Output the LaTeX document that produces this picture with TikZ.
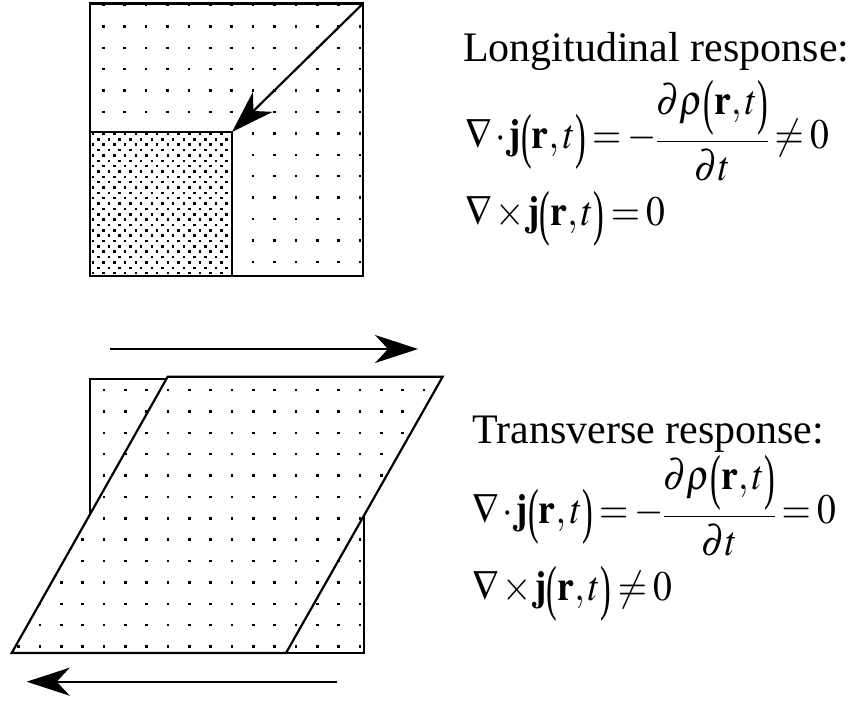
\documentclass[tikz,border=0pt]{standalone}
\usepackage{amsmath}
\usepackage{graphicx}
\usepackage{mathptmx}
\usepackage[no-math]{fontspec}
\setmainfont{Liberation Serif}
\usetikzlibrary{arrows.meta}
\newcommand{\mydot}[2]{\fill ({#1-1.25},{#2-1.25}) rectangle ++(2.5,2.5);}
\newcommand{\mylp}{\mathopen{\raisebox{-8pt}{\scalebox{0.85}[1.45]{(}}}}
\newcommand{\myrp}{\mathclose{\raisebox{-8pt}{\scalebox{0.85}[1.45]{)}}}}
\newcommand{\tightm}{\thickmuskip=3mu\relax\medmuskip=1.5mu\relax\nulldelimiterspace=0pt\relax}
\newcommand{\eqbox}[1]{\scalebox{0.895}[1]{$\tightm #1$}}
\newcommand{\dfr}{\mathord{\raisebox{-4pt}{$\tightm\displaystyle\frac{\partial\rho\mylp\mathbf{r},t\myrp}{\partial t}$}}}
\tikzset{
  edge/.style={line width=2.2pt, line join=miter},
  bigarrow/.style={line width=2.2pt, -{Stealth[length=43pt,width=28pt,inset=13pt]}},
  txt/.style={font=\fontsize{42}{50}\selectfont, inner sep=0pt, anchor=base west}
}
\begin{document}
\begin{tikzpicture}[x=1pt,y=-1pt]
\useasboundingbox (0,0) rectangle (854,702);
% ---------- top square ----------
\foreach \j in {0,...,12}{
  \foreach \i in {0,...,12}{
    \pgfmathsetmacro\px{103.3+21.4*\i}
    \pgfmathsetmacro\py{5+21.4*\j}
    \ifnum\j>5 \ifnum\i>6 \mydot{\px}{\py}\fi \else \mydot{\px}{\py}\fi
  }}
\foreach \k in {0,...,26}{
  \pgfmathsetmacro\py{134+5.35*\k}
  \pgfmathsetmacro\xs{ifthenelse(mod(\k,2)==1,98.3,92.95)}
  \foreach \m in {0,...,12}{
    \pgfmathsetmacro\px{\xs+10.7*\m}
    \mydot{\px}{\py}
  }}
\coordinate (sqA) at (90,3.5);
\coordinate (sqB) at (363,276);
\coordinate (cornerIn) at (232,132);
\draw[edge] (sqA) rectangle (sqB);
\draw[edge] (90,132) -- (cornerIn) -- (232,276);
\coordinate (a1s) at (363,3.5);
\draw[bigarrow] (a1s) -- (cornerIn);
% ---------- bottom figure ----------
\coordinate (bsA) at (90,379);
\coordinate (bsB) at (364,653);
\coordinate (p1) at (167.7,376.7);
\coordinate (p2) at (442.7,376.7);
\coordinate (p3) at (286,653);
\coordinate (p4) at (11.7,653);
\draw[edge] (bsA) rectangle (bsB);
\fill[white] (p1) -- (p2) -- (p3) -- (p4) -- cycle;
\begin{scope}
  \clip (bsA) rectangle (bsB);
  \foreach \j in {0,...,12}{
    \foreach \i in {-4,...,15}{
      \pgfmathsetmacro\px{104+21.33*\i}
      \pgfmathsetmacro\py{390+21.38*\j}
      \mydot{\px}{\py}
    }}
\end{scope}
\begin{scope}
  \clip (p1) -- (p2) -- (p3) -- (p4) -- cycle;
  \foreach \j in {0,...,12}{
    \foreach \i in {-4,...,15}{
      \pgfmathsetmacro\px{104+21.33*\i}
      \pgfmathsetmacro\py{390+21.38*\j}
      \mydot{\px}{\py}
    }}
\end{scope}
\draw[edge] (p1) -- (p2) -- (p3) -- (p4) -- cycle;
\coordinate (a2s) at (110,349);
\coordinate (a2e) at (418,349);
\draw[bigarrow] (a2s) -- (a2e);
\coordinate (a3s) at (336.7,681.7);
\coordinate (a3e) at (26.7,681.7);
\draw[bigarrow] (a3s) -- (a3e);
% ---------- texts ----------
\node[txt] (lt) at (463,61.7) {Longitudinal response:};
\node[txt] (le1) at (465,148) {\eqbox{\nabla\cdot\mathbf{j}\mylp\mathbf{r},t\myrp=-\dfr\neq 0}};
\node[txt] (le2) at (465,225) {\eqbox{\nabla\times\mathbf{j}\mylp\mathbf{r},t\myrp=0}};
\node[txt] (tt) at (472,443) {Transverse response:};
\node[txt] (te1) at (472,523) {\eqbox{\nabla\cdot\mathbf{j}\mylp\mathbf{r},t\myrp=-\dfr=0}};
\node[txt] (te2) at (472,600) {\eqbox{\nabla\times\mathbf{j}\mylp\mathbf{r},t\myrp\neq 0}};
\end{tikzpicture}
\end{document}
